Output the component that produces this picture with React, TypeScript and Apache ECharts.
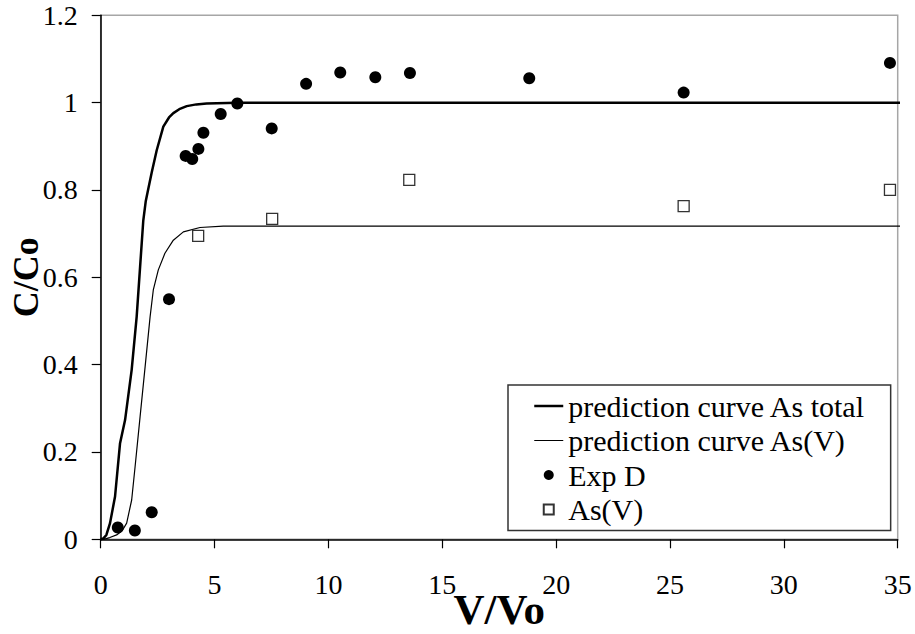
import React, { useEffect, useRef } from "react";
import * as echarts from "echarts";

// Prediction curve As total
const totalX = [0, 0.12, 0.25, 0.41, 0.63, 0.85, 1.07, 1.36, 1.58, 1.73, 1.87, 1.98, 2.1, 2.24, 2.46, 2.75, 3.0, 3.19, 3.45, 3.78, 4.2, 4.65, 6.0, 35.2];
const totalY = [0, 0.002, 0.01, 0.037, 0.098, 0.22, 0.273, 0.388, 0.51, 0.624, 0.73, 0.775, 0.805, 0.84, 0.891, 0.945, 0.966, 0.976, 0.985, 0.992, 0.996, 0.998, 1.0, 1.0];

// Prediction curve As(V)
const asvX = [0, 0.12, 0.4, 0.7, 0.95, 1.14, 1.36, 1.51, 1.73, 1.95, 2.17, 2.31, 2.53, 2.82, 3.19, 3.63, 4.36, 5.38, 35.2];
const asvY = [0, 0, 0.004, 0.01, 0.02, 0.037, 0.09, 0.166, 0.281, 0.395, 0.51, 0.571, 0.617, 0.655, 0.685, 0.704, 0.714, 0.717, 0.717];

// Exp D points
const expX = [0.75, 1.5, 2.24, 3.0, 3.73, 4.02, 4.29, 4.51, 5.27, 6.0, 7.51, 9.02, 10.52, 12.06, 13.58, 18.82, 25.6, 34.66];
const expY = [0.027, 0.02, 0.062, 0.55, 0.878, 0.871, 0.894, 0.931, 0.974, 0.998, 0.941, 1.043, 1.069, 1.058, 1.068, 1.056, 1.023, 1.091];

// As(V) points
const asX = [4.28, 7.53, 13.55, 25.6, 34.66];
const asY = [0.695, 0.734, 0.823, 0.763, 0.8];

const xTicksInterval = 5;
const yTicksInterval = 0.2;

const FONT = "'Liberation Serif', 'Times New Roman', serif";

const zip = (xs: number[], ys: number[]) => xs.map((x, i) => [x, ys[i]]);

export default function App() {
  const ref = useRef<HTMLDivElement>(null);
  useEffect(() => {
    const chart = echarts.init(ref.current!, null, { renderer: "svg" });
    chart.setOption({
      animation: false,
      backgroundColor: "#ffffff",
      textStyle: { fontFamily: FONT, color: "#000" },
      grid: {
        left: 100.7,
        top: 15.3,
        right: 17.3,
        bottom: 94.7,
        outerBoundsMode: "none",
        containLabel: false,
        show: true,
        borderColor: "#a6a6a6",
        borderWidth: 1.5,
        backgroundColor: "transparent",
      },
      xAxis: {
        type: "value",
        min: 0,
        max: 35,
        interval: xTicksInterval,
        name: "V/Vo",
        nameLocation: "middle",
        nameGap: 49,
        nameMoveOverlap: false,
        nameTextStyle: { fontFamily: FONT, fontSize: 43, fontWeight: "bold", color: "#000" },
        axisLine: { show: true, onZero: false, lineStyle: { color: "#000", width: 1.5 } },
        axisTick: { show: true, inside: false, length: 9, lineStyle: { color: "#000", width: 1.2 } },
        axisLabel: { fontFamily: FONT, fontSize: 28, color: "#000", margin: 31 },
        splitLine: { show: false },
      },
      yAxis: {
        type: "value",
        min: 0,
        max: 1.2,
        interval: yTicksInterval,
        name: "C/Co",
        nameLocation: "middle",
        nameGap: 57,
        nameMoveOverlap: false,
        nameTextStyle: { fontFamily: FONT, fontSize: 36, fontWeight: "bold", color: "#000" },
        axisLine: { show: true, onZero: false, lineStyle: { color: "#000", width: 1.5 } },
        axisTick: { show: true, inside: false, length: 9, lineStyle: { color: "#000", width: 1.2 } },
        axisLabel: { fontFamily: FONT, fontSize: 28, color: "#000", margin: 23 },
        splitLine: { show: false },
      },
      legend: {
        orient: "vertical",
        left: 508,
        top: 385,
        padding: [4, 25, 4, 25],
        itemWidth: 29,
        itemHeight: 10,
        itemGap: 0.5,
        symbolKeepAspect: true,
        borderColor: "#333",
        borderWidth: 1.5,
        backgroundColor: "#fff",
        selectedMode: false,
        textStyle: { fontFamily: FONT, fontSize: 30, color: "#000", lineHeight: 34 },
        data: [
          { name: "prediction curve As total", itemStyle: { opacity: 0 }, lineStyle: { width: 2.5, color: "#000" } },
          { name: "prediction curve As(V)", itemStyle: { opacity: 0 }, lineStyle: { width: 1, color: "#000" } },
          { name: "Exp D", icon: "circle" },
          { name: "As(V)", icon: "path://M0,0H10V10H0Z" },
        ],
      },
      series: [
        {
          name: "prediction curve As total",
          type: "line",
          data: zip(totalX, totalY),
          symbol: "none",
          showSymbol: false,
          clip: false,
          lineStyle: { color: "#000", width: 2.5 },
          itemStyle: { color: "#000" },
          z: 2,
        },
        {
          name: "prediction curve As(V)",
          type: "line",
          data: zip(asvX, asvY),
          symbol: "none",
          showSymbol: false,
          clip: false,
          lineStyle: { color: "#000", width: 1.2 },
          itemStyle: { color: "#000" },
          z: 2,
        },
        {
          name: "Exp D",
          type: "scatter",
          data: zip(expX, expY),
          symbol: "circle",
          symbolSize: 12,
          itemStyle: { color: "#000", opacity: 1 },
          z: 3,
        },
        {
          name: "As(V)",
          type: "scatter",
          data: zip(asX, asY),
          symbol: "rect",
          symbolSize: 11,
          itemStyle: { color: "#fff", borderColor: "#333", borderWidth: 1.3, opacity: 1 },
          z: 3,
        },
      ],
    });
    return () => chart.dispose();
  }, []);
  return (
    <div
      ref={ref}
      style={{ position: "absolute", left: 0, top: 0, width: 915, height: 634, background: "#fff" }}
    />
  );
}
